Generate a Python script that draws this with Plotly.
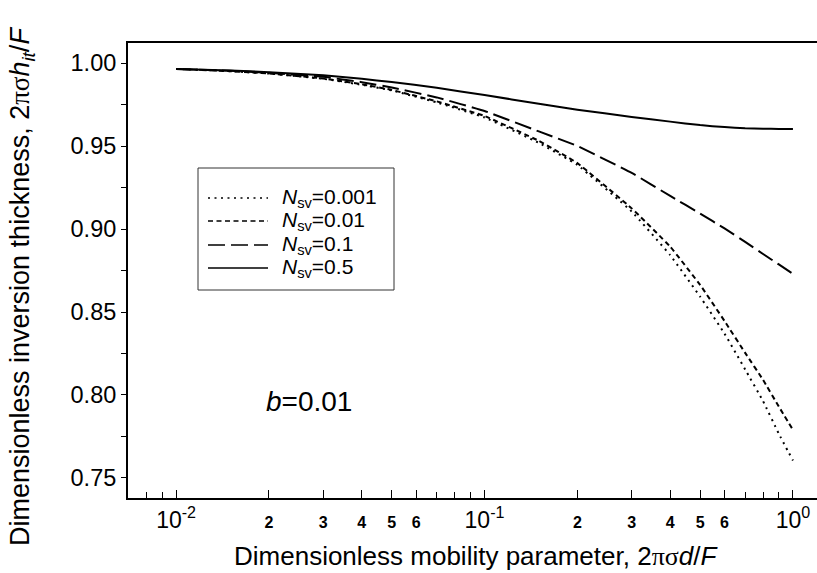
import plotly.graph_objects as go

# Dimensionless mobility parameter (log axis)
mobility = [0.01, 0.015, 0.02, 0.03, 0.04, 0.05, 0.07, 0.1, 0.15, 0.2, 0.3, 0.4, 0.5, 0.6,
            0.7, 0.8, 0.9, 1.0]

# Dimensionless inversion thickness for each N_sv (b = 0.01)
thick_nsv_0001 = [0.9966, 0.9952, 0.9938, 0.9906, 0.9870, 0.9836, 0.9764, 0.9673, 0.9520,
                  0.9387, 0.9106, 0.8843, 0.8593, 0.8370, 0.8154, 0.7963, 0.7766, 0.7605]
thick_nsv_001 = [0.9966, 0.9952, 0.9938, 0.9908, 0.9873, 0.9839, 0.9770, 0.9682, 0.9532,
                 0.9398, 0.9125, 0.8894, 0.8664, 0.8446, 0.8254, 0.8091, 0.7930, 0.7790]
thick_nsv_01 = [0.9966, 0.9954, 0.9942, 0.9918, 0.9886, 0.9854, 0.9794, 0.9712, 0.9589,
                0.9501, 0.9339, 0.9200, 0.9094, 0.9004, 0.8923, 0.8850, 0.8787, 0.8730]
thick_nsv_05 = [0.9966, 0.9956, 0.9946, 0.9928, 0.9906, 0.9887, 0.9852, 0.9808, 0.9756,
                0.9720, 0.9676, 0.9648, 0.9627, 0.9615, 0.9608, 0.9605, 0.9604, 0.9604]

series_labels = ["0.001", "0.01", "0.1", "0.5"]
series_values = [thick_nsv_0001, thick_nsv_001, thick_nsv_01, thick_nsv_05]
series_dash = ["2px,4.5px", "5px,3.5px", "17px,6px", "solid"]

# x tick labels
x_major = [0.01, 0.1, 1.0]
x_major_text = ["10<sup>-2</sup>", "10<sup>-1</sup>", "10<sup>0</sup>"]
x_digit_ticks = [2, 3, 4, 5, 6]
x_minor_only = [0.008, 0.009, 0.07, 0.08, 0.09, 0.7, 0.8, 0.9]

W, H = 817, 573
ML, MR, MT, MB = 128, 0, 43, 75
PW, PH = W - ML - MR, H - MT - MB


def px(x):
    return (x - ML) / PW


def py(y):
    return (H - MB - y) / PH


fig = go.Figure()
for lab, vals, dash in zip(series_labels, series_values, series_dash):
    fig.add_trace(go.Scatter(
        x=mobility, y=vals, mode="lines", name=lab,
        line=dict(color="black", width=2, dash=dash, shape="spline", smoothing=0.3),
        showlegend=False,
    ))

tickvals, ticktext = [], []
for v, t in zip(x_major, x_major_text):
    tickvals.append(v)
    ticktext.append(t)
for decade in (0.01, 0.1):
    for d in x_digit_ticks:
        tickvals.append(d * decade)
        ticktext.append(f"<span style='font-size:16px'><b>{d}</b></span>")

font_main = "Liberation Sans, Arial, sans-serif"
fig.update_layout(
    width=W, height=H,
    margin=dict(l=ML, r=MR, t=MT, b=MB),
    paper_bgcolor="white", plot_bgcolor="white",
    font=dict(family=font_main, color="black", size=23),
    xaxis=dict(
        type="log", range=[-2.156, 0.078],
        tickmode="array", tickvals=tickvals, ticktext=ticktext,
        ticks="inside", ticklen=8, tickwidth=1, tickcolor="black",
        minor=dict(tickmode="array", tickvals=x_minor_only, ticks="inside",
                   ticklen=6, tickwidth=1, tickcolor="black", showgrid=False),
        showline=True, linecolor="black", linewidth=2, mirror=True,
        showgrid=False, zeroline=False, tickangle=0,
        tickfont=dict(size=23),
    ),
    yaxis=dict(
        range=[0.7379, 1.0122],
        tickmode="linear", tick0=0.75, dtick=0.05, tickformat=".2f",
        ticks="outside", ticklen=5, tickwidth=1, tickcolor="black",
        minor=dict(tick0=0.75, dtick=0.025, ticks="outside", ticklen=5,
                   tickwidth=1, tickcolor="black", showgrid=False),
        showline=True, linecolor="black", linewidth=2, mirror=False,
        showgrid=False, zeroline=False,
        tickfont=dict(size=23.5),
    ),
)

serif = "<span style='font-family:Liberation Serif, serif'>"
annotations = [
    dict(text="Dimensionless mobility parameter, 2" + serif + "πσ</span><i>d</i>/<i>F</i>",
         x=px(476), y=py(556), xref="paper", yref="paper", showarrow=False,
         xanchor="center", yanchor="middle", font=dict(size=26)),
    dict(text="Dimensionless inversion thickness, 2" + serif + "πσ</span><i>h</i><sub><i>it</i></sub>/<i>F</i>",
         x=px(22), y=py(287), xref="paper", yref="paper", showarrow=False,
         xanchor="center", yanchor="middle", textangle=-90, font=dict(size=27)),
    dict(text="<i>b</i>=0.01", x=px(264), y=py(401), xref="paper", yref="paper",
         showarrow=False, xanchor="left", yanchor="middle", font=dict(size=28)),
]

# legend box, sample lines and labels
shapes = [dict(type="rect", xref="paper", yref="paper",
               x0=px(198), x1=px(394), y0=py(290), y1=py(168),
               line=dict(color="#333", width=1), fillcolor="white", layer="below")]
legend_rows = [198, 221, 245, 268]
for row, lab, dash in zip(legend_rows, series_labels, series_dash):
    shapes.append(dict(type="line", xref="paper", yref="paper",
                       x0=px(208), x1=px(268), y0=py(row), y1=py(row),
                       line=dict(color="black", width=1.3, dash=dash)))
    annotations.append(dict(text=f"<i>N</i><sub>sv</sub>=" + lab,
                            x=px(280), y=py(row), xref="paper", yref="paper",
                            showarrow=False, xanchor="left", yanchor="middle",
                            font=dict(size=21)))

fig.update_layout(shapes=shapes, annotations=annotations)
fig.write_html("out.html")
